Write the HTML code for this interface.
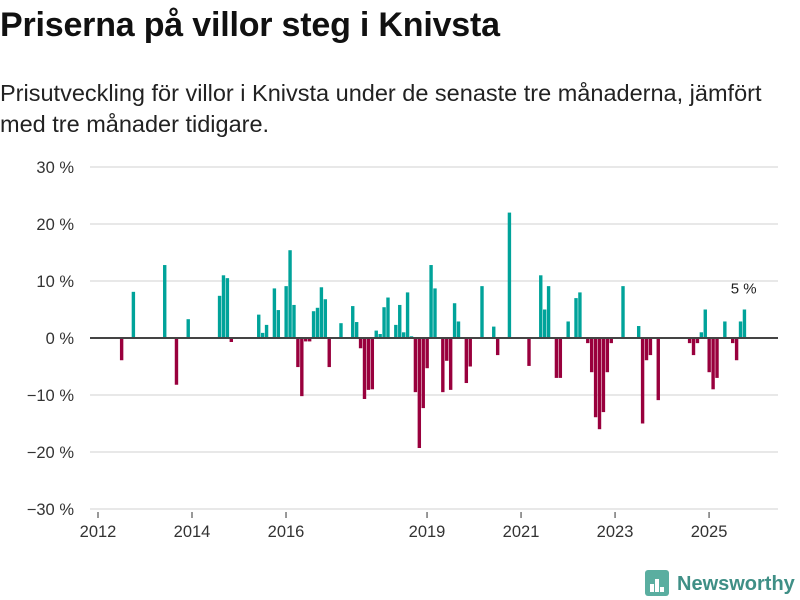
<!DOCTYPE html>
<html><head><meta charset="utf-8"><style>
body{margin:0;background:#fff;font-family:"Liberation Sans","DejaVu Sans",sans-serif;}
#wrap{position:relative;width:800px;height:600px;overflow:hidden}
h1{position:absolute;left:0;top:6px;margin:0;font-size:34px;font-weight:bold;color:#111;letter-spacing:-0.2px}
p{position:absolute;left:0;top:78px;margin:0;font-size:23.5px;line-height:31px;color:#222;width:800px}
</style></head><body><div id="wrap">
<h1>Priserna på villor steg i Knivsta</h1>
<p>Prisutveckling för villor i Knivsta under de senaste tre månaderna, jämfört med tre månader tidigare.</p>
<svg id="chart" width="800" height="600" style="position:absolute;left:0;top:0"></svg>
</div>
<script>
const yTicks=[30,20,10,0,-10,-20,-30];
const yTickLabels=["30 %","20 %","10 %","0 %","−10 %","−20 %","−30 %"];
const xTickYears=[2012,2014,2016,2019,2021,2023,2025];
const startYear=2012;
const values=[
0,0,0,0,0,-3.9,0,0,8.1,0,0,0,
0,0,0,0,12.8,0,0,-8.2,0,0,3.3,0,
0,0,0,0,0,0,7.4,11,10.5,-0.7,0,0,
0,0,0,0,4.1,0.9,2.3,0,8.7,4.9,0,9.1,
15.4,5.8,-5.1,-10.2,-0.6,-0.6,4.7,5.3,8.9,6.8,-5.1,0,
0,2.6,0,0,5.6,2.8,-1.8,-10.7,-9.1,-9.0,1.3,0.7,
5.4,7.1,0,2.3,5.8,1.0,8.0,0.3,-9.5,-19.3,-12.3,-5.3,
12.8,8.7,0,-9.5,-4.0,-9.1,6.1,2.9,0,-7.9,-5.0,0,
0,9.1,0,0,2.0,-3.0,0,0,22.0,0,0,0,
0,-4.9,0,0,11.0,5.0,9.1,0,-7.0,-7.0,0,2.9,
0,7.0,8.0,0,-0.9,-6.0,-13.9,-16.0,-13.0,-6.0,-0.9,0,
0,9.1,0,0,0,2.1,-15.0,-3.9,-3.0,0,-10.9,0,
0,0,0,0,0,0,-0.9,-3.0,-0.9,1.0,5.0,-6.0,
-9.0,-7.0,0,2.9,0,-0.9,-3.9,2.9,5.0];
const lastLabel="5 %";

const NS="http://www.w3.org/2000/svg";
const svg=document.getElementById('chart');
const y=v=>338-v*5.7;
const x=m=>98+m*3.917;
function mk(t,a,txt){const e=document.createElementNS(NS,t);for(const k in a)e.setAttribute(k,a[k]);if(txt!=null)e.textContent=txt;svg.appendChild(e);return e;}
yTicks.forEach((t,i)=>{
  if(t!==0){const g=mk('line',{x1:90,x2:778,y1:y(t),y2:y(t),stroke:'#e0e0e0','stroke-width':1.5});
  
  }
  const l=mk('text',{x:74,y:y(t)+6,'text-anchor':'end','font-size':16.5,fill:'#333','font-family':'Liberation Sans, sans-serif'},yTickLabels[i]);
  
  
});
xTickYears.forEach(yr=>{
  const xx=x((yr-startYear)*12);
  const t=mk('line',{x1:xx,x2:xx,y1:512,y2:518,stroke:'#333','stroke-width':1});
  
  
  const l=mk('text',{x:xx,y:537,'text-anchor':'middle','font-size':16.5,fill:'#333','font-family':'Liberation Sans, sans-serif'},String(yr));
  
  
});
values.forEach((v,i)=>{
  if(v===0)return;
  const x0=x(i+0.6);
  const b=mk('rect',{x:x0,y:Math.min(y(v),338),width:3.4,height:Math.abs(y(v)-338),fill:v>0?'#00a39a':'#99003d'});
  
  
});
const z=mk('line',{x1:90,x2:778,y1:338,y2:338,stroke:'#444','stroke-width':2});


const li=values.length-1;
const lab=mk('text',{x:x(li+0.6)+1,y:y(values[li])-16,'text-anchor':'middle','font-size':15,fill:'#222','font-family':'Liberation Sans, sans-serif'},lastLabel);


const lg=mk('g',{});


const ic=document.createElementNS(NS,'rect');
ic.setAttribute('x',645);ic.setAttribute('y',570);ic.setAttribute('width',24);ic.setAttribute('height',26);ic.setAttribute('rx',3);ic.setAttribute('fill','#5aaea0');
lg.appendChild(ic);
[[650,584,4,8],[655,579,4,13],[660,587,4,5]].forEach(r=>{const e=document.createElementNS(NS,'rect');e.setAttribute('x',r[0]);e.setAttribute('y',r[1]);e.setAttribute('width',r[2]);e.setAttribute('height',r[3]);e.setAttribute('fill','#fff');lg.appendChild(e);});
const lt=document.createElementNS(NS,'text');
lt.setAttribute('x',677);lt.setAttribute('y',590);lt.setAttribute('font-size',20);lt.setAttribute('font-weight','bold');lt.setAttribute('fill','#3f8f86');lt.setAttribute('font-family','Liberation Sans, sans-serif');
lt.textContent='Newsworthy';
lg.appendChild(lt);
</script></body></html>
